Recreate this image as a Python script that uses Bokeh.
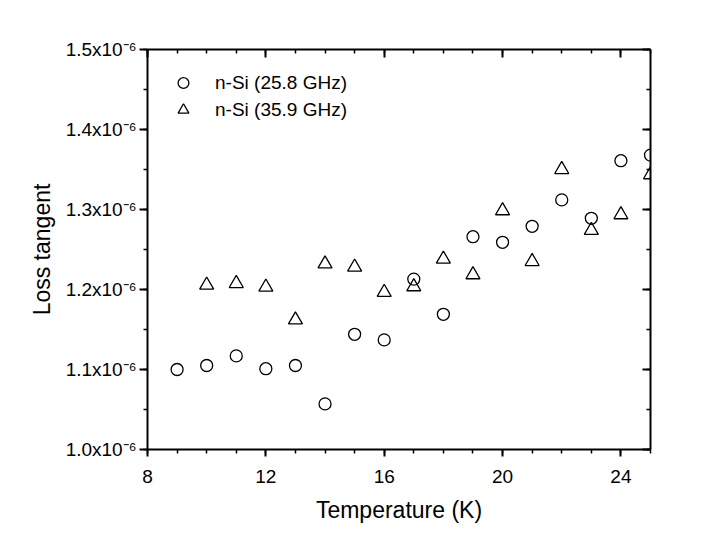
from bokeh.plotting import figure
from bokeh.models import (Range1d, LinearAxis, FixedTicker, CustomJSTickFormatter,
                          Legend, LegendItem)
from bokeh.embed import file_html
from bokeh.resources import INLINE

# ---- data ----
temp_258 = [9, 10, 11, 12, 13, 14, 15, 16, 17, 18, 19, 20, 21, 22, 23, 24, 25]
loss_258 = [1.100e-6, 1.105e-6, 1.117e-6, 1.101e-6, 1.105e-6, 1.057e-6, 1.144e-6,
            1.137e-6, 1.213e-6, 1.169e-6, 1.266e-6, 1.259e-6, 1.279e-6, 1.312e-6,
            1.289e-6, 1.361e-6, 1.368e-6]

temp_359 = [10, 11, 12, 13, 14, 15, 16, 17, 18, 19, 20, 21, 22, 23, 24, 25]
loss_359 = [1.2055e-6, 1.2075e-6, 1.203e-6, 1.162e-6, 1.232e-6, 1.228e-6, 1.1965e-6,
            1.2035e-6, 1.238e-6, 1.2185e-6, 1.2985e-6, 1.235e-6, 1.350e-6, 1.274e-6,
            1.2935e-6, 1.3435e-6]

x_major_ticks = [8, 12, 16, 20, 24]
x_minor_ticks = [8, 9, 10, 11, 12, 13, 14, 15, 16, 17, 18, 19, 20, 21, 22, 23, 24, 25]
y_major_ticks = [1.0e-6, 1.1e-6, 1.2e-6, 1.3e-6, 1.4e-6, 1.5e-6]
y_minor_ticks = [1.0e-6, 1.05e-6, 1.1e-6, 1.15e-6, 1.2e-6, 1.25e-6, 1.3e-6,
                 1.35e-6, 1.4e-6, 1.45e-6, 1.5e-6]

label_258 = "n-Si (25.8 GHz)"
label_359 = "n-Si (35.9 GHz)"
x_title = "Temperature (K)"
y_title = "Loss tangent"

FONT = "Liberation Sans"

p = figure(width=705, height=543, output_backend="svg", toolbar_location=None,
           x_range=Range1d(8, 25), y_range=Range1d(1.0e-6, 1.5e-6),
           min_border_left=147, min_border_right=55, min_border_top=49,
           min_border_bottom=94, x_axis_label=x_title, y_axis_label=y_title)
p.grid.visible = False
p.outline_line_color = None
p.background_fill_color = "white"
p.border_fill_color = "white"

xticker = FixedTicker(ticks=x_major_ticks, minor_ticks=x_minor_ticks)
yticker = FixedTicker(ticks=y_major_ticks, minor_ticks=y_minor_ticks)

def style_axis(ax):
    ax.axis_line_width = 2
    ax.axis_line_color = "black"
    ax.major_tick_line_width = 2
    ax.minor_tick_line_width = 1.5
    ax.major_tick_line_color = "black"
    ax.minor_tick_line_color = "black"
    ax.major_label_text_font = FONT
    ax.major_label_text_font_size = "19px"
    ax.major_label_text_color = "black"
    ax.axis_label_text_font = FONT
    ax.axis_label_text_font_size = "23px"
    ax.axis_label_text_font_style = "normal"
    ax.axis_label_text_color = "black"

xa = p.xaxis[0]
xa.ticker = xticker
style_axis(xa)
xa.major_tick_out = 7
xa.major_tick_in = 0
xa.minor_tick_out = 4
xa.minor_tick_in = 0
xa.major_label_standoff = 13
xa.axis_label_standoff = 11

ya = p.yaxis[0]
ya.ticker = yticker
style_axis(ya)
ya.formatter = CustomJSTickFormatter(
    code="return (tick*1e6).toFixed(1) + 'x10\u207b\u2076';")
ya.major_tick_out = 8
ya.major_tick_in = 0
ya.minor_tick_out = 4
ya.minor_tick_in = 0
ya.major_label_standoff = 3
ya.axis_label_standoff = 8

blank = CustomJSTickFormatter(code="return '';")
top = LinearAxis(ticker=xticker, formatter=blank)
style_axis(top)
top.major_tick_in = 8
top.major_tick_out = 0
top.minor_tick_in = 4
top.minor_tick_out = 0
p.add_layout(top, "above")

right = LinearAxis(ticker=yticker, formatter=blank)
style_axis(right)
right.major_tick_in = 8
right.major_tick_out = 0
right.minor_tick_in = 4
right.minor_tick_out = 0
p.add_layout(right, "right")

r1 = p.scatter(temp_258, loss_258, marker="circle", size=12, line_color="black",
               fill_color=None, line_width=1.3)
r2 = p.scatter(temp_359, loss_359, marker="triangle", size=14, line_color="black",
               fill_color=None, line_width=1.3)

legend = Legend(items=[LegendItem(label=label_258, renderers=[r1]),
                       LegendItem(label=label_359, renderers=[r2])],
                location=(20, 326), padding=0, margin=0, spacing=0,
                glyph_width=32, glyph_height=27, label_standoff=16,
                border_line_color=None, background_fill_alpha=0,
                label_text_font=FONT, label_text_font_size="19px",
                label_text_color="black")
p.add_layout(legend)

open("out.html", "w").write(file_html(p, INLINE))
